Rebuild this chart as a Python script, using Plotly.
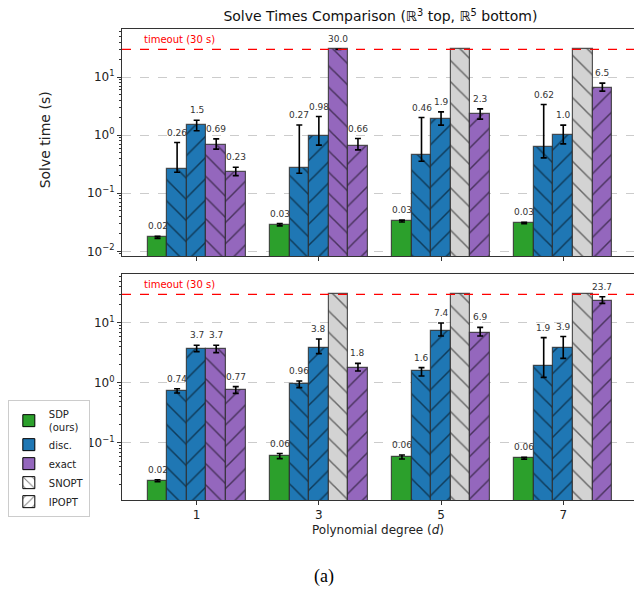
import math
import plotly.graph_objects as go

# ---------------- data ----------------
degrees = [1, 3, 5, 7]
TIMEOUT = 30.0

# R^3 (top panel)
sdp_r3 = [0.0174, 0.0288, 0.0333, 0.0308]
sdp_r3_lo = [0.0167, 0.0274, 0.0320, 0.0300]
sdp_r3_hi = [0.0181, 0.0300, 0.0345, 0.0316]
disc_snopt_r3 = [0.26, 0.27, 0.46, 0.62]
disc_snopt_r3_lo = [0.230, 0.221, 0.356, 0.406]
disc_snopt_r3_hi = [0.746, 1.50, 2.01, 3.37]
disc_ipopt_r3 = [1.5, 0.98, 1.9, 1.0]
disc_ipopt_r3_lo = [1.19, 0.673, 1.49, 0.708]
disc_ipopt_r3_hi = [1.81, 2.09, 2.52, 1.49]
exact_snopt_r3 = [0.69, 30.0, None, None]      # None = timed out
exact_snopt_r3_lo = [0.574, 30.0, None, None]
exact_snopt_r3_hi = [0.864, 30.0, None, None]
exact_ipopt_r3 = [0.23, 0.66, 2.3, 6.5]
exact_ipopt_r3_lo = [0.201, 0.558, 1.89, 5.74]
exact_ipopt_r3_hi = [0.281, 0.874, 2.84, 7.87]

# R^5 (bottom panel)
sdp_r5 = [0.0235, 0.0607, 0.0584, 0.0554]
sdp_r5_lo = [0.0226, 0.0548, 0.0540, 0.0535]
sdp_r5_hi = [0.0244, 0.0668, 0.0630, 0.0575]
disc_snopt_r5 = [0.74, 0.96, 1.6, 1.9]
disc_snopt_r5_lo = [0.681, 0.835, 1.31, 1.24]
disc_snopt_r5_hi = [0.803, 1.08, 1.80, 5.69]
disc_ipopt_r5 = [3.7, 3.8, 7.4, 3.9]
disc_ipopt_r5_lo = [3.33, 3.08, 6.06, 2.57]
disc_ipopt_r5_hi = [4.24, 5.41, 10.0, 5.93]
exact_snopt_r5 = [3.7, None, None, None]
exact_snopt_r5_lo = [3.20, None, None, None]
exact_snopt_r5_hi = [4.24, None, None, None]
exact_ipopt_r5 = [0.77, 1.8, 6.9, 23.7]
exact_ipopt_r5_lo = [0.672, 1.58, 6.06, 21.2]
exact_ipopt_r5_hi = [0.869, 2.12, 8.44, 27.4]

legend_names = ["SDP<br>(ours)", "disc.", "exact", "SNOPT", "IPOPT"]

# ---------------- style ----------------
GREEN = "#2ca02c"
BLUE = "#1f77b4"
PURPLE = "#9467bd"
GREY = "#d3d3d3"
EDGE = "rgba(45,45,45,0.8)"
FONT = "DejaVu Sans"
BW = 0.16

fig = go.Figure()


def fmt(v):
    return f"{v:.2f}" if v < 1 else f"{v:.1f}"


panels = [
    ("x", "y", [
        (sdp_r3, sdp_r3_lo, sdp_r3_hi, GREEN, ""),
        (disc_snopt_r3, disc_snopt_r3_lo, disc_snopt_r3_hi, BLUE, "\\"),
        (disc_ipopt_r3, disc_ipopt_r3_lo, disc_ipopt_r3_hi, BLUE, "/"),
        (exact_snopt_r3, exact_snopt_r3_lo, exact_snopt_r3_hi, PURPLE, "\\"),
        (exact_ipopt_r3, exact_ipopt_r3_lo, exact_ipopt_r3_hi, PURPLE, "/"),
    ]),
    ("x2", "y2", [
        (sdp_r5, sdp_r5_lo, sdp_r5_hi, GREEN, ""),
        (disc_snopt_r5, disc_snopt_r5_lo, disc_snopt_r5_hi, BLUE, "\\"),
        (disc_ipopt_r5, disc_ipopt_r5_lo, disc_ipopt_r5_hi, BLUE, "/"),
        (exact_snopt_r5, exact_snopt_r5_lo, exact_snopt_r5_hi, PURPLE, "\\"),
        (exact_ipopt_r5, exact_ipopt_r5_lo, exact_ipopt_r5_hi, PURPLE, "/"),
    ]),
]

annotations = []
for xa, ya, series in panels:
    for j, (vals, lo, hi, color, hatch) in enumerate(series):
        xs, ys, ep, em = [], [], [], []
        txs, tys = [], []
        for i, v in enumerate(vals):
            xpos = i + (j - 2) * BW
            if v is None:
                txs.append(xpos)
                tys.append(TIMEOUT)
                continue
            xs.append(xpos)
            ys.append(v)
            ep.append(hi[i] - v)
            em.append(v - lo[i])
            annotations.append(dict(
                x=xpos, y=math.log10(hi[i]), xref=xa, yref=ya, text=fmt(v),
                showarrow=False, yanchor="bottom", yshift=3,
                font=dict(family=FONT, size=9, color="#333333")))
        pat = dict(shape=hatch, fgcolor="black", bgcolor=color, size=15,
                   solidity=0.1) if hatch else None
        fig.add_trace(go.Bar(
            x=xs, y=ys, width=BW, xaxis=xa, yaxis=ya, showlegend=False,
            hoverinfo="skip",
            marker=dict(color=color, line=dict(color=EDGE, width=1.2),
                        pattern=pat),
            error_y=dict(type="data", symmetric=False, array=ep,
                         arrayminus=em, color="black", thickness=1.6,
                         width=3)))
        if txs:
            fig.add_trace(go.Bar(
                x=txs, y=tys, width=BW, xaxis=xa, yaxis=ya, showlegend=False,
                hoverinfo="skip",
                marker=dict(color=GREY, line=dict(color=EDGE, width=1.2),
                            pattern=dict(shape=hatch, fgcolor="black",
                                         bgcolor=GREY, size=15,
                                         solidity=0.1))))

# legend-only traces
leg_specs = [(GREEN, ""), (BLUE, ""), (PURPLE, ""), ("white", "\\"), ("white", "/")]
for name, (c, h) in zip(legend_names, leg_specs):
    fig.add_trace(go.Bar(
        x=[None], y=[None], name=name, xaxis="x", yaxis="y",
        marker=dict(color=c, line=dict(color="black", width=1),
                    pattern=dict(shape=h, fgcolor="black", bgcolor=c,
                                 size=8, solidity=0.15) if h else None)))

# timeout lines + labels
for xa, ya in [("x", "y"), ("x2", "y2")]:
    fig.add_shape(type="line", xref=f"{xa} domain", yref=ya, x0=0, x1=1,
                  y0=TIMEOUT, y1=TIMEOUT,
                  line=dict(color="red", width=1.3, dash="dash"))
    annotations.append(dict(
        x=0.04, y=math.log10(TIMEOUT), xref=f"{xa} domain", yref=ya,
        text="timeout (30 s)", showarrow=False, xanchor="left",
        yanchor="bottom", yshift=2,
        font=dict(family=FONT, size=10, color="red")))

annotations.append(dict(
    x=0.395, y=-0.163, xref="paper", yref="paper", text="(a)",
    showarrow=False, xanchor="center", yanchor="middle",
    font=dict(family="Liberation Serif", size=18, color="black")))
annotations.append(dict(
    x=-0.150, y=0.764, xref="paper", yref="paper", text="Solve time (s)",
    textangle=-90, showarrow=False, xanchor="center", yanchor="middle",
    font=dict(family=FONT, size=14, color="#222")))

tickvals = [0.01, 0.1, 1, 10]
ticktext = ["10<sup>−2</sup>", "10<sup>−1</sup>", "10<sup>0</sup>",
            "10<sup>1</sup>"]
minor_vals = [m * 10 ** e for e in range(-3, 2) for m in range(2, 10)]

yax_common = dict(
    type="log", tickvals=tickvals, ticktext=ticktext, ticks="outside",
    ticklen=4, tickcolor="#333", showline=True, linecolor="#333",
    linewidth=1, mirror=False, showgrid=True, gridcolor="#cccccc",
    griddash="dash", gridwidth=0.8, zeroline=False,
    tickfont=dict(family=FONT, size=12, color="#222"),
    minor=dict(ticks="outside", ticklen=2, tickcolor="#333",
               showgrid=False, tickvals=minor_vals))
xax_common = dict(
    range=[-0.611, 3.579], tickvals=[0, 1, 2, 3],
    ticktext=[str(d) for d in degrees], ticks="outside", ticklen=4,
    tickcolor="#333", showline=True, linecolor="#333", linewidth=1,
    mirror=True, showgrid=False, zeroline=False,
    tickfont=dict(family=FONT, size=12, color="#222"))

fig.update_layout(
    width=634, height=589,
    margin=dict(l=122, r=0, t=29, b=89, autoexpand=False),
    paper_bgcolor="white", plot_bgcolor="white",
    barmode="overlay", bargap=0,
    title=dict(text="Solve Times Comparison (ℝ<sup>3</sup> top, ℝ<sup>5</sup> bottom)",
               x=0.6, xanchor="center", y=0.972, yanchor="middle",
               font=dict(family=FONT, size=14, color="#111")),
    xaxis=dict(**xax_common, domain=[0, 1], anchor="y", showticklabels=False),
    xaxis2=dict(**xax_common, domain=[0, 1], anchor="y2", matches="x",
                title=dict(text="Polynomial degree (<i>d</i>)", standoff=4,
                           font=dict(family=FONT, size=12, color="#222"))),
    yaxis=dict(**yax_common, domain=[0.518, 1], anchor="x",
               range=[-2.081, 1.828]),
    yaxis2=dict(**yax_common, domain=[0, 0.48], anchor="x2",
                range=[-1.95, 1.817]),
    legend=dict(x=-0.223, y=0.212, xanchor="left", yanchor="top",
                bgcolor="white", bordercolor="#cccccc", borderwidth=1,
                font=dict(family=FONT, size=10, color="#222"),
                tracegroupgap=0, itemwidth=30),
    annotations=annotations,
)

fig.write_html("out.html",
               config={"displayModeBar": False},
               post_script="document.body.style.margin='0';"
                           "document.body.style.padding='0';")
